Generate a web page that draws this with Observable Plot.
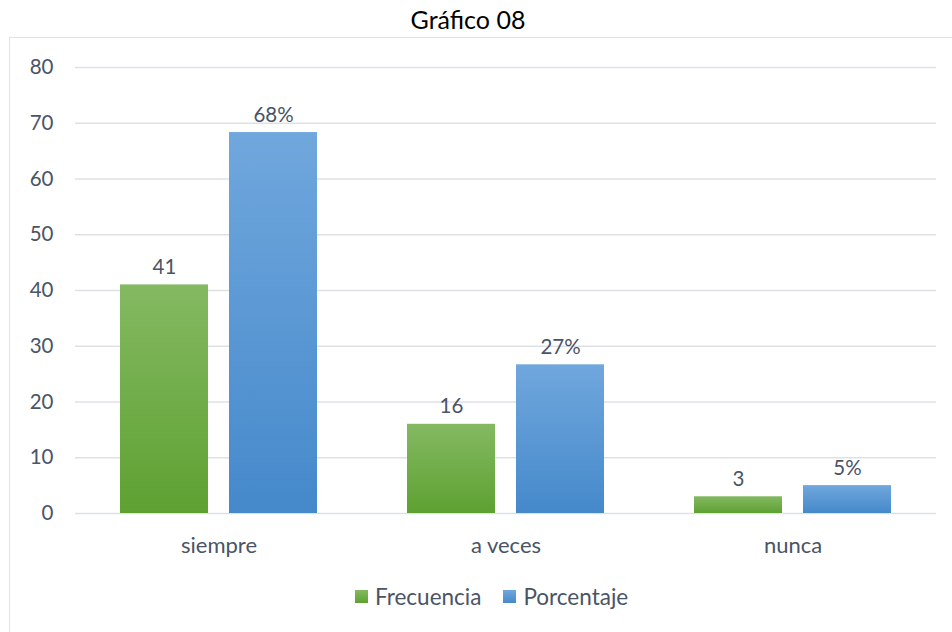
<!DOCTYPE html>
<html>
<head>
<meta charset="utf-8">
<script src="https://cdn.jsdelivr.net/npm/d3@7"></script>
<script src="https://cdn.jsdelivr.net/npm/@observablehq/plot@0.6"></script>
<style>
  html, body { margin: 0; padding: 0; background: #fff; width: 952px; height: 632px; overflow: hidden; }
  body { font-family: Lato, "Open Sans", sans-serif; color: #4a5467; position: relative; }
  #title { position: absolute; left: 0; top: 4px; width: 936px; text-align: center; font-size: 25px; color: #000; }
  #frame { position: absolute; left: 9px; top: 37px; width: 980px; height: 640px; border: 1.5px solid #dfe2e6; box-sizing: border-box; }
  #chart { position: absolute; left: 0; top: 38px; }
  #legend { position: absolute; left: 355px; top: 583px; display: flex; align-items: center; font-size: 22.5px; color: #4a5467; white-space: nowrap; }
  #legend .sw { width: 13px; height: 13px; display: inline-block; margin-right: 7px; }
  #legend .item { display: flex; align-items: center; margin-right: 22px; }
</style>
</head>
<body>
<div id="title">Gráfico 08</div>
<div id="frame"></div>
<div id="chart"></div>
<div id="legend"></div>
<script>
const categories = ["siempre", "a veces", "nunca"];
const series = ["Frecuencia", "Porcentaje"];
const frecuencia = [41, 16, 3];
const porcentaje = [68.33, 26.67, 5];
const porcentajeLabels = ["68%", "27%", "5%"];
const yTicks = [0, 10, 20, 30, 40, 50, 60, 70, 80];

const data = categories.flatMap((c, i) => [
  {cat: c, series: "Frecuencia", value: frecuencia[i], label: String(frecuencia[i])},
  {cat: c, series: "Porcentaje", value: porcentaje[i], label: porcentajeLabels[i]}
]);

const textColor = "#4a5467";

const chart = Plot.plot({
  width: 952,
  height: 520,
  marginLeft: 74,
  marginRight: 16,
  marginTop: 29,
  marginBottom: 45,
  style: {fontFamily: "Lato, 'Open Sans', sans-serif", fontSize: "20.5px", color: textColor, background: "transparent", overflow: "visible"},
  fx: {domain: categories, padding: 0, label: null, axis: null},
  x: {domain: series, paddingInner: 0.19, paddingOuter: 0.4, axis: null},
  y: {domain: [0, 80], ticks: yTicks, label: null, tickSize: 0, tickPadding: 22},
  color: {domain: series, range: ["url(#gradGreen)", "url(#gradBlue)"]},
  marks: [
    Plot.ruleY(yTicks, {stroke: "#dde1e6", strokeWidth: 1.5}),
    Plot.barY(data, {fx: "cat", x: "series", y: "value", fill: "series"}),
    Plot.text(data, {fx: "cat", x: "series", y: "value", text: "label", dy: -11, lineAnchor: "bottom", fill: textColor}),
    Plot.axisFx({anchor: "bottom", tickSize: 0, tickPadding: 24, fontSize: "22px", label: null})
  ]
});

const ns = "http://www.w3.org/2000/svg";
const defs = document.createElementNS(ns, "defs");
function grad(id, top, bottom) {
  const g = document.createElementNS(ns, "linearGradient");
  g.setAttribute("id", id);
  g.setAttribute("x1", "0"); g.setAttribute("y1", "0");
  g.setAttribute("x2", "0"); g.setAttribute("y2", "1");
  const s1 = document.createElementNS(ns, "stop");
  s1.setAttribute("offset", "0"); s1.setAttribute("stop-color", top);
  const s2 = document.createElementNS(ns, "stop");
  s2.setAttribute("offset", "1"); s2.setAttribute("stop-color", bottom);
  g.appendChild(s1); g.appendChild(s2);
  defs.appendChild(g);
}
grad("gradGreen", "#84b962", "#5ea131");
grad("gradBlue", "#70a7dd", "#4589cb");
chart.insertBefore(defs, chart.firstChild);
document.getElementById("chart").appendChild(chart);

const legend = document.getElementById("legend");
const swatches = [
  "linear-gradient(#84b962, #5ea131)",
  "linear-gradient(#70a7dd, #4589cb)"
];
series.forEach((s, i) => {
  const item = document.createElement("span");
  item.className = "item";
  const sw = document.createElement("span");
  sw.className = "sw";
  sw.style.background = swatches[i];
  item.appendChild(sw);
  item.appendChild(document.createTextNode(s));
  legend.appendChild(item);
});
</script>
</body>
</html>
